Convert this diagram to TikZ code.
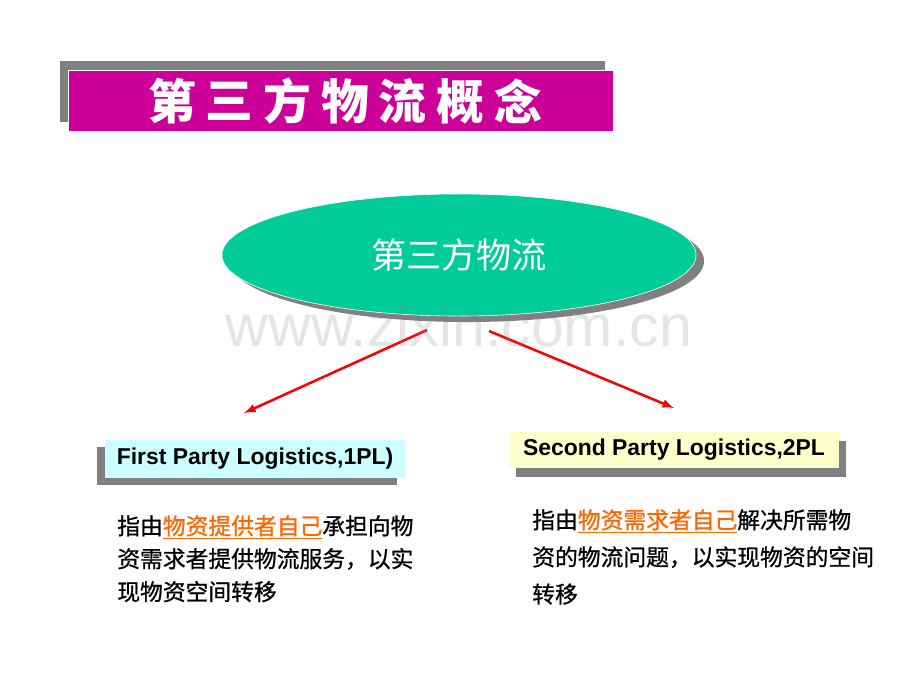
\documentclass[tikz,border=0pt]{standalone}
\usepackage{xcolor}
\usepackage{fontspec}
\setmainfont{Liberation Sans}
\newfontfamily\cjkfont{Noto Sans CJK SC}
\newfontfamily\cjkbody{Noto Sans CJK SC}[FakeBold=0.8]
\usepackage{tikz}
\usetikzlibrary{shapes,shadows,arrows,calc}

\definecolor{titleMagenta}{HTML}{CC0099}
\definecolor{ovalGreen}{HTML}{00CC99}
\definecolor{shadowGray}{HTML}{808080}
\definecolor{boxCyan}{HTML}{CCFFFF}
\definecolor{boxYellow}{HTML}{FFFFCC}
\definecolor{keyOrange}{HTML}{FF6600}

\tikzstyle{tsTitleBox} = [
    rectangle,
    fill=titleMagenta,
    draw=white,
    line width=0.2mm,
    minimum width=13.625cm,
    minimum height=1.525cm,
    drop shadow={shadow xshift=-0.2cm, shadow yshift=0.225cm,
                 fill=shadowGray, opacity=1}
]
\tikzstyle{tsTitleChar} = [
    text=white,
    font=\cjkfont\bfseries\fontsize{34}{40}\selectfont,
    inner sep=0pt
]
\tikzstyle{tsOval} = [
    ellipse,
    fill=ovalGreen,
    draw=white,
    line width=0.15mm,
    minimum width=11.85cm,
    minimum height=3.05cm,
    text=white,
    font=\cjkfont\fontsize{25}{30}\selectfont
]
\tikzstyle{tsLabelBox} = [
    rectangle,
    text=black,
    font=\bfseries\fontsize{16.3}{19}\selectfont,
    inner sep=0pt
]
\tikzstyle{tsBody} = [
    text=black,
    font=\cjkbody\fontsize{16.2}{23.4}\selectfont,
    align=left,
    inner sep=0pt
]
\tikzstyle{tsRedArrow} = [
    -latex,
    draw=red,
    line width=1.8pt
]

\begin{document}
\begin{tikzpicture}[x=0.025cm, y=-0.025cm]

        % Canvas
        \fill[white] (0,0) rectangle (920,690);
        \useasboundingbox (0,0) rectangle (920,690);

        % Title bar
        \node[tsTitleBox] (title) at (340.5,100.5) {};
        \foreach \ch [count=\i from 0] in {第,三,方,物,流,概,念}
            \node[tsTitleChar] (t\i) at ($(172,101)+(57.7*\i,0)$) {\ch};

        % Central oval
        \node[tsOval,
        drop shadow={shadow xshift=0.2cm, shadow yshift=-0.15cm,
                     fill=shadowGray, opacity=1}] (hub) at (459,255) {第三方物流};

        % Two branches
        \coordinate (leftStart)  at (427,330);
        \coordinate (leftEnd)    at (244,413);
        \coordinate (rightStart) at (489,331);
        \coordinate (rightEnd)   at (674,408);
        \draw[tsRedArrow] (leftStart) -- (leftEnd);
        \draw[tsRedArrow] (rightStart) -- (rightEnd);

        % Label boxes
        \node[tsLabelBox,
        fill=boxCyan,
        minimum width=7.5cm,
        minimum height=0.95cm,
        drop shadow={shadow xshift=-0.2cm, shadow yshift=-0.18cm,
                     fill=shadowGray, opacity=1}] (firstPL) at (255,459)
        {First Party Logistics,1PL)};

        \node[tsLabelBox,
        fill=boxYellow,
        minimum width=8.225cm,
        minimum height=0.9cm,
        drop shadow={shadow xshift=0.175cm, shadow yshift=-0.225cm,
                     fill=shadowGray, opacity=1}] (secondPL) at (674,450)
        {Second Party Logistics,2PL\hspace{0.12cm}};

        % Explanations
        \node[tsBody, anchor=north west] (firstText) at (117,515)
        {指由{\color{keyOrange}\underline{物资提供者自己}}承担向物\\
         资需求者提供物流服务，以实\\
         现物资空间转移};

        \node[tsBody, anchor=north west,
        font=\cjkbody\fontsize{16.2}{26.4}\selectfont] (secondText) at (532,509)
        {指由{\color{keyOrange}\underline{物资需求者自己}}解决所需物\\
         资的物流问题，以实现物资的空间\\
         转移};

        % Watermark
        \node[text=gray, text opacity=0.2, font=\fontsize{42}{48}\selectfont,
        anchor=base, inner sep=0pt] (mark) at (459,346) {www.zixin.com.cn};

    \end{tikzpicture}
\end{document}
